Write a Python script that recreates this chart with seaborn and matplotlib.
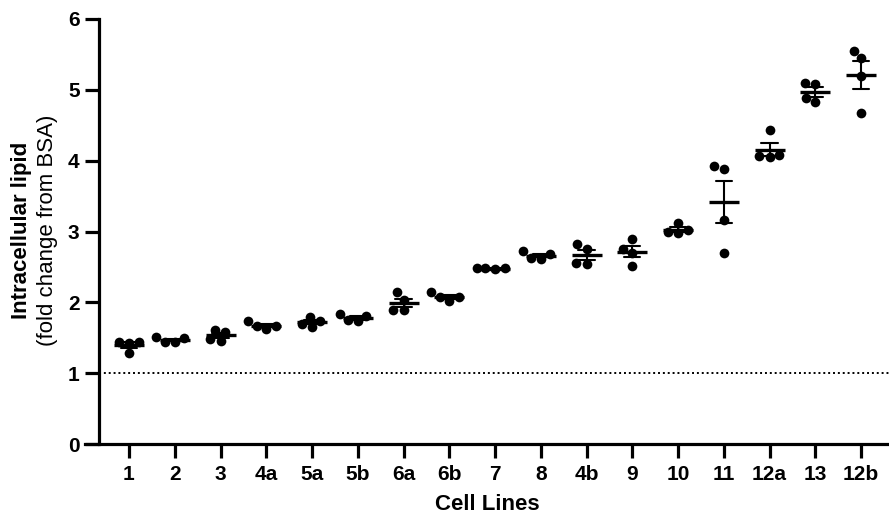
import numpy as np
import pandas as pd
import matplotlib
matplotlib.use("Agg")
import matplotlib.pyplot as plt
import seaborn as sns

# ---- data ----
cell_lines = ["1", "2", "3", "4a", "5a", "5b", "6a", "6b", "7", "8",
              "4b", "9", "10", "11", "12a", "13", "12b"]
replicates = [
    [1.44, 1.42, 1.44, 1.28],   # 1
    [1.44, 1.51, 1.44, 1.49],   # 2
    [1.46, 1.58, 1.61, 1.48],   # 3
    [1.62, 1.73, 1.67, 1.67],   # 4a
    [1.79, 1.65, 1.69, 1.74],   # 5a
    [1.73, 1.84, 1.75, 1.81],   # 5b
    [1.89, 2.14, 1.89, 2.04],   # 6a
    [2.15, 2.02, 2.07, 2.07],   # 6b
    [2.47, 2.48, 2.48, 2.48],   # 7
    [2.61, 2.72, 2.63, 2.68],   # 8
    [2.76, 2.54, 2.82, 2.55],   # 4b
    [2.76, 2.90, 2.69, 2.52],   # 9
    [2.98, 3.02, 3.12, 2.99],   # 10
    [3.88, 3.93, 3.16, 2.70],   # 11
    [4.43, 4.05, 4.08, 4.07],   # 12a
    [5.08, 5.09, 4.83, 4.88],   # 13
    [5.45, 5.55, 5.19, 4.67],   # 12b
]
y_ticks = [0, 1, 2, 3, 4, 5, 6]
baseline = 1.0

df = pd.DataFrame({
    "line": [c for c, vals in zip(cell_lines, replicates) for _ in vals],
    "value": [v for vals in replicates for v in vals],
})

# ---- figure ----
sns.set_theme(style="ticks")
plt.rcParams["font.family"] = ["Liberation Sans", "DejaVu Sans"]
plt.rcParams["text.color"] = "black"
plt.rcParams["axes.labelcolor"] = "black"
plt.rcParams["xtick.color"] = "black"
plt.rcParams["ytick.color"] = "black"

W, H = 889, 516
fig = plt.figure(figsize=(W / 100, H / 100), dpi=100)
ax = fig.add_axes([85 / W, (H - 444) / H, (W - 85) / W, (444 - 19) / H])

sns.swarmplot(data=df, x="line", y="value", order=cell_lines, color="black",
              size=7.0, linewidth=0, ax=ax, zorder=3)
sns.pointplot(data=df, x="line", y="value", order=cell_lines, color="black",
              errorbar="se", capsize=0.35, marker="_", markersize=22,
              markeredgewidth=2.4, linestyle="none",
              err_kws={"linewidth": 1.5}, ax=ax, zorder=4)

step = 45.75
x_left = (85 - 129) / step
x_right = (889 - 129) / step
spine_x = (99 - 129) / step
ax.set_xlim(x_left, x_right)
ax.set_ylim(0, 6)
ax.set_yticks(y_ticks)

ax.hlines(baseline, spine_x, x_right, colors="black", linewidth=1.4,
          linestyles=(0, (1, 1.5)), zorder=2)

for s in ["top", "right"]:
    ax.spines[s].set_visible(False)
for s in ["left", "bottom"]:
    ax.spines[s].set_linewidth(2.3)
    ax.spines[s].set_color("black")
ax.spines["left"].set_position(("data", spine_x))

ax.tick_params(axis="both", which="major", length=10, width=2.3,
               color="black", labelcolor="black", labelsize=15,
               direction="out", bottom=True, left=True)
ax.tick_params(axis="x", pad=5)
ax.tick_params(axis="y", pad=4)
for lab in ax.get_xticklabels() + ax.get_yticklabels():
    lab.set_fontweight("bold")

ax.set_xlabel("Cell Lines", fontsize=16, fontweight="bold", labelpad=7.5,
              color="black")
ax.set_ylabel("")
ax.grid(False)

fig.text(22 / W, (H - 230) / H, "Intracellular lipid", rotation=90,
         ha="center", va="center", fontsize=16, fontweight="bold",
         color="black")
fig.text(48 / W, (H - 230) / H, "(fold change from BSA)", rotation=90,
         ha="center", va="center", fontsize=16, color="black")

fig.savefig("out.png", dpi=100)
